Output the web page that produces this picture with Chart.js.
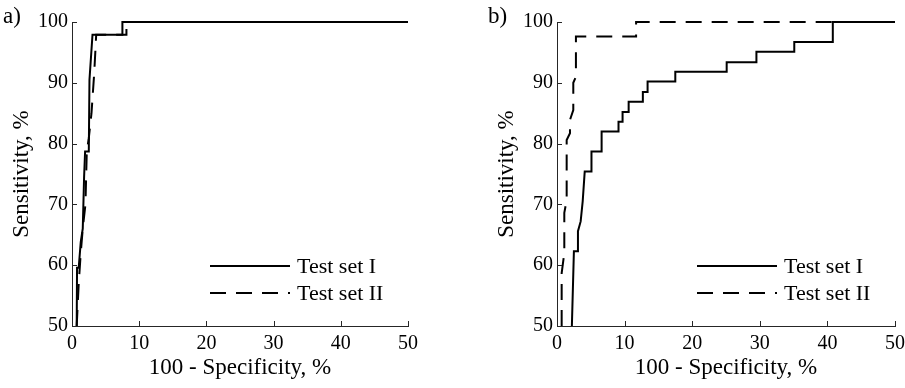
<!DOCTYPE html>
<html><head><meta charset="utf-8">
<script src="https://cdn.jsdelivr.net/npm/chart.js@4.4.0/dist/chart.umd.min.js"></script>
<style>
html,body{margin:0;padding:0;background:#fff;}
#wrap{position:relative;width:905px;height:388px;overflow:hidden;}
canvas{position:absolute;top:0;}
#ca{left:0;} #cb{left:452px;}
</style></head><body>
<div id="wrap"><canvas id="ca" width="452" height="388"></canvas><canvas id="cb" width="470" height="388"></canvas></div>
<script>
// ---- data ----
const xTicks = [0, 10, 20, 30, 40, 50];
const yTicks = [50, 60, 70, 80, 90, 100];
const seriesNames = ['Test set I', 'Test set II'];
const panelLabels = ['a)', 'b)'];
const xTitle = '100 - Specificity, %';
const yTitle = 'Sensitivity, %';

// panel a, Test set I (100 - specificity, sensitivity)
const aSet1X = [0.7, 0.75, 1.0, 1.3, 1.6, 1.8, 1.95, 2.5, 2.6, 3.05, 7.5, 7.5, 50];
const aSet1Y = [50, 59.6, 59.6, 63.8, 66.0, 74.5, 78.7, 78.7, 90.5, 97.9, 97.9, 100, 100];
// panel a, Test set II
const aSet2X = [0.7, 1.0, 1.3, 1.6, 2.0, 2.2, 2.5, 2.9, 3.3, 3.5, 3.6, 8.1, 8.1, 50];
const aSet2Y = [50, 57.0, 62.0, 66.0, 70.0, 78.7, 80.9, 85.0, 91.5, 95.7, 97.9, 97.9, 100, 100];
// panel b, Test set I
const bSet1X = [2.2, 2.5, 3.1, 3.1, 3.5, 3.8, 4.1, 5.1, 5.1, 6.6, 6.6, 9.1, 9.1, 9.7, 9.7, 10.6, 10.6, 12.7, 12.7, 13.4, 13.4, 17.5, 17.5, 25.1, 25.1, 29.5, 29.5, 35.1, 35.1, 40.8, 40.8, 50];
const bSet1Y = [50, 62.3, 62.3, 65.6, 67.2, 70.5, 75.4, 75.4, 78.7, 78.7, 82.0, 82.0, 83.6, 83.6, 85.2, 85.2, 86.9, 86.9, 88.5, 88.5, 90.2, 90.2, 91.8, 91.8, 93.4, 93.4, 95.1, 95.1, 96.7, 96.7, 100, 100];
// panel b, Test set II
const bSet2X = [0.69, 0.69, 1.08, 1.08, 1.43, 1.43, 1.92, 1.92, 2.41, 2.41, 2.8, 2.8, 11.7, 11.7, 50];
const bSet2Y = [50, 58.7, 62.0, 68.6, 70.7, 80.6, 81.7, 83.9, 85.5, 90.0, 91.0, 97.6, 97.6, 100, 100];

// ---- styles ----
const FONT = 'Liberation Serif';
const INK = '#000000';
const AXIS = '#262626';
const DASH = [16, 10];

function pts(xs, ys) { return xs.map((x, i) => ({ x: x, y: ys[i] })); }

const decorPlugin = {
  id: 'decor',
  afterDraw(chart) {
    const ctx = chart.ctx;
    const ca = chart.chartArea;
    const xs = chart.scales.x, ys = chart.scales.y;
    ctx.save();
    // inward tick marks
    ctx.strokeStyle = AXIS; ctx.lineWidth = 1; ctx.setLineDash([]);
    xs.ticks.forEach(t => {
      const px = Math.round(xs.getPixelForValue(t.value)) + 0.5;
      ctx.beginPath(); ctx.moveTo(px, ca.bottom); ctx.lineTo(px, ca.bottom - 5); ctx.stroke();
    });
    ys.ticks.forEach(t => {
      const py = Math.round(ys.getPixelForValue(t.value)) + 0.5;
      ctx.beginPath(); ctx.moveTo(ca.left, py); ctx.lineTo(ca.left + 5, py); ctx.stroke();
    });
    // legend
    ctx.font = '22px "' + FONT + '"';
    ctx.fillStyle = INK;
    ctx.textBaseline = 'middle';
    chart.data.datasets.forEach((ds, i) => {
      const y = ca.bottom - 60 + i * 27;
      ctx.strokeStyle = ds.borderColor; ctx.lineWidth = ds.borderWidth;
      ctx.setLineDash(ds.borderDash || []);
      ctx.beginPath(); ctx.moveTo(ca.right - 198, y); ctx.lineTo(ca.right - 118, y); ctx.stroke();
      ctx.setLineDash([]);
      ctx.fillText(ds.label, ca.right - 111, y + 1);
    });
    // panel label
    const o = chart.options.plugins.decor;
    ctx.font = '23px "' + FONT + '"';
    ctx.textBaseline = 'alphabetic';
    ctx.fillText(o.label, o.lx, 23);
    ctx.restore();
  }
};

function makeChart(id, panel, d1, d2, padLeft, padRight, labelX) {
  const common = { showLine: true, pointRadius: 0, pointHoverRadius: 0, borderColor: INK, borderWidth: 2,
                   borderJoinStyle: 'miter', borderCapStyle: 'butt', tension: 0, clip: false, fill: false };
  return new Chart(document.getElementById(id), {
    type: 'scatter',
    data: { datasets: [
      Object.assign({ label: seriesNames[0], data: d1 }, common),
      Object.assign({ label: seriesNames[1], data: d2, borderDash: DASH }, common)
    ]},
    options: {
      responsive: false, animation: false, devicePixelRatio: 1,
      layout: { padding: { left: padLeft, right: padRight, top: 22, bottom: 0 } },
      plugins: { legend: { display: false }, tooltip: { enabled: false },
                 decor: { label: panelLabels[panel], lx: labelX } },
      scales: {
        x: {
          type: 'linear', min: xTicks[0], max: xTicks[xTicks.length - 1],
          afterBuildTicks: s => { s.ticks = xTicks.map(v => ({ value: v })); },
          afterFit: s => { s.height = 62; },
          grid: { display: true, drawOnChartArea: false, drawTicks: false },
          border: { display: true, color: AXIS, width: 1 },
          ticks: { padding: 6, color: INK, font: { family: FONT, size: 20 }, maxRotation: 0 },
          title: { display: true, text: xTitle, color: INK, font: { family: FONT, size: 23 }, padding: { top: 0, bottom: 6 } }
        },
        y: {
          type: 'linear', min: yTicks[0], max: yTicks[yTicks.length - 1],
          afterBuildTicks: s => { s.ticks = yTicks.map(v => ({ value: v })); },
          afterFit: s => { s.width = 72; },
          grid: { display: true, drawOnChartArea: false, drawTicks: false },
          border: { display: true, color: AXIS, width: 1 },
          ticks: { padding: 4, color: INK, font: { family: FONT, size: 20 } },
          title: { display: true, text: yTitle, color: INK, font: { family: FONT, size: 23 }, padding: { top: 8, bottom: 0 } }
        }
      }
    },
    plugins: [decorPlugin]
  });
}

makeChart('ca', 0, pts(aSet1X, aSet1Y), pts(aSet2X, aSet2Y), 0, 44, 3);
makeChart('cb', 1, pts(bSet1X, bSet1Y), pts(bSet2X, bSet2Y), 33, 27, 36);
</script>
</body></html>
